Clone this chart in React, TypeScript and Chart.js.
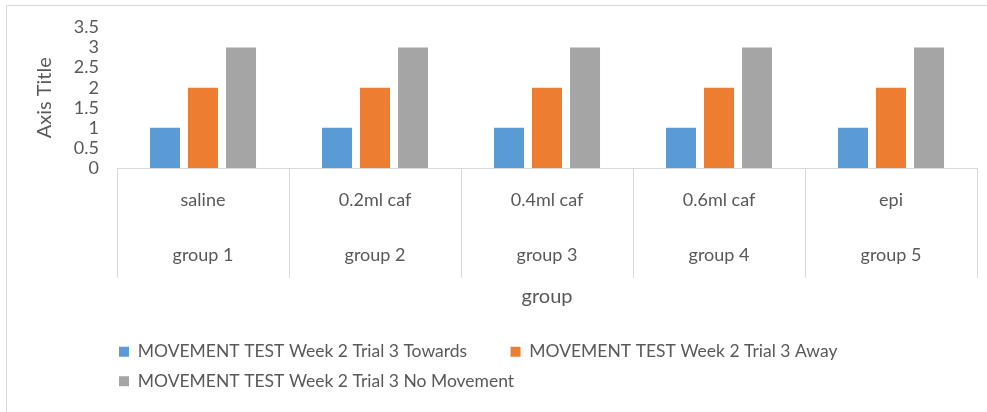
import React, { useEffect, useRef } from 'react';
import { Chart, registerables } from 'chart.js';

Chart.register(...registerables);

const treatments = ['saline', '0.2ml caf', '0.4ml caf', '0.6ml caf', 'epi'];
const groups = ['group 1', 'group 2', 'group 3', 'group 4', 'group 5'];
const seriesNames = [
  'MOVEMENT TEST Week 2 Trial 3 Towards',
  'MOVEMENT TEST Week 2 Trial 3 Away',
  'MOVEMENT TEST Week 2 Trial 3 No Movement',
];
const towards = [1, 1, 1, 1, 1];
const away = [2, 2, 2, 2, 2];
const noMovement = [3, 3, 3, 3, 3];
const yMin = 0;
const yMax = 3.5;
const yStep = 0.5;

const colors = ['#5B9BD5', '#ED7D31', '#A5A5A5'];
const FONT = 'Lato, "Liberation Sans", sans-serif';
const TEXT = '#595959';
const LINE = '#D9D9D9';
const LEGEND_SIZE = 17.5;

export default function App() {
  const ref = useRef<HTMLCanvasElement>(null);

  useEffect(() => {
    document.body.style.margin = '0';
    const canvas = ref.current;
    if (!canvas) return;

    const legendShift = {
      id: 'legendShift',
      afterLayout(chart: any) {
        if (chart.legend) chart.legend.left = 107;
      },
    };

    const labels = treatments.map((t, i) => [t, groups[i]]);
    const values = [towards, away, noMovement];

    const chart = new Chart(canvas, {
      type: 'bar',
      data: {
        labels,
        datasets: seriesNames.map((name, i) => ({
          label: name,
          data: values[i],
          backgroundColor: colors[i],
          borderWidth: 0,
          barPercentage: 0.79,
          categoryPercentage: 0.663,
        })),
      },
      options: {
        animation: false,
        responsive: false,
        maintainAspectRatio: false,
        devicePixelRatio: 1,
        layout: { padding: { left: 0, right: 10, top: 27.5, bottom: 12 } },
        plugins: {
          tooltip: { enabled: false },
          legend: {
            display: true,
            position: 'bottom',
            align: 'start',
            labels: {
              boxWidth: 10,
              boxHeight: 10,
              padding: 12,
              color: TEXT,
              font: { family: FONT, size: LEGEND_SIZE },
              generateLabels(ch: any) {
                const items = Chart.defaults.plugins.legend.labels.generateLabels(ch);
                const ctx = ch.ctx;
                ctx.save();
                ctx.font = `${LEGEND_SIZE}px ${FONT}`;
                const w = ctx.measureText(items[0].text).width;
                const sp = ctx.measureText('\u00a0').width || 4;
                ctx.restore();
                const n = Math.max(0, Math.round((360 - w) / sp));
                items[0].text = items[0].text + '\u00a0'.repeat(n);
                items.forEach((it: any) => { it.lineWidth = 0; });
                return items;
              },
            },
          },
        },
        scales: {
          x: {
            grid: {
              display: true,
              drawOnChartArea: false,
              drawTicks: true,
              tickLength: 110,
              color: LINE,
              lineWidth: 1,
              offset: true,
            },
            border: { display: true, color: LINE, width: 1 },
            ticks: {
              color: TEXT,
              font: { family: FONT, size: 18, lineHeight: '55px' },
              padding: -105.5,
              autoSkip: false,
              maxRotation: 0,
              minRotation: 0,
            },
            title: {
              display: true,
              text: 'group',
              color: TEXT,
              font: { family: FONT, size: 20, lineHeight: 1.2 },
              padding: { top: 0, bottom: 22 },
            },
            afterFit(scale: any) {
              scale.height = 163;
            },
          },
          y: {
            min: yMin,
            max: yMax,
            grid: { display: false, drawTicks: false },
            border: { display: false },
            ticks: {
              stepSize: yStep,
              autoSkip: false,
              color: TEXT,
              font: { family: FONT, size: 18, lineHeight: 1 },
              padding: 18,
              callback: (v: any) => String(Number(v)),
            },
            title: {
              display: true,
              text: 'Axis Title',
              color: TEXT,
              font: { family: FONT, size: 20, lineHeight: 1.2 },
              padding: { top: 33, bottom: 0 },
            },
            afterFit(scale: any) {
              scale.width = 117;
            },
          },
        },
      },
      plugins: [legendShift],
    } as any);

    return () => chart.destroy();
  }, []);

  return (
    <div style={{ position: 'relative', width: 987, height: 412, overflow: 'hidden', background: '#fff' }}>
      <div
        style={{
          position: 'absolute',
          left: 6,
          top: 5,
          width: 1000,
          height: 430,
          border: `1px solid ${LINE}`,
          boxSizing: 'border-box',
        }}
      />
      <canvas ref={ref} width={987} height={412} style={{ position: 'absolute', left: 0, top: 0, width: 987, height: 412 }} />
    </div>
  );
}
